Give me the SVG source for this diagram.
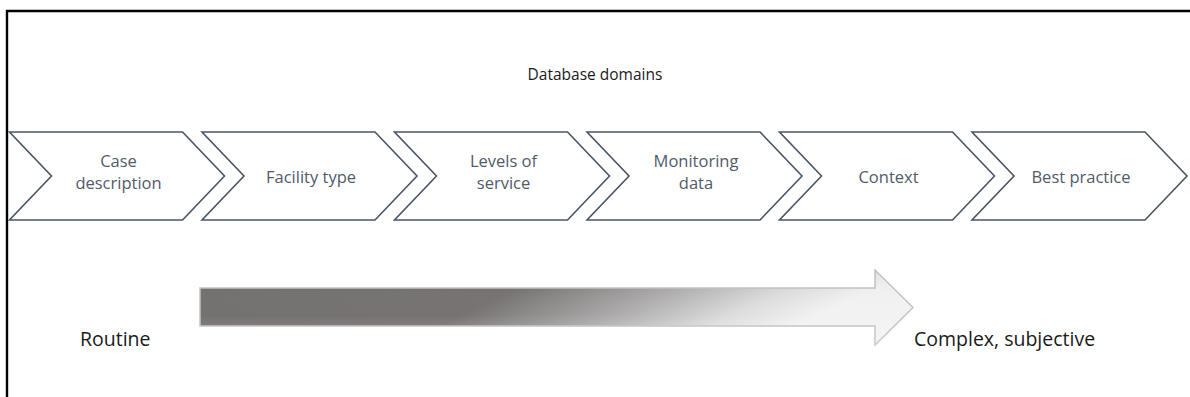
<svg xmlns="http://www.w3.org/2000/svg" width="1190" height="397" viewBox="0 0 1190 397">
<style>
.chev{fill:#ffffff;stroke:#4a5566;stroke-width:1.6;stroke-linejoin:miter}
.lbl{font-family:"Open Sans","Liberation Sans",sans-serif;font-size:16.5px;fill:#515b69;text-anchor:middle}
.big{font-family:"Open Sans","Liberation Sans",sans-serif;font-size:19.5px;fill:#1a1a1a}
.title{font-family:"Open Sans","Liberation Sans",sans-serif;font-size:15.5px;fill:#1a1a1a;text-anchor:middle}
</style>
<defs>
<linearGradient id="gH" gradientUnits="userSpaceOnUse" x1="200" y1="270" x2="331" y2="546">
<stop offset="0" stop-color="#737070"/>
<stop offset="0.5" stop-color="#777373"/>
<stop offset="0.7" stop-color="#a9a7a7"/>
<stop offset="0.88" stop-color="#dddddd"/>
<stop offset="1" stop-color="#f2f2f2"/>
</linearGradient>
<linearGradient id="gV" x1="0" y1="0" x2="0" y2="1">
<stop offset="0" stop-color="#000000" stop-opacity="0.04"/>
<stop offset="0.6" stop-color="#ffffff" stop-opacity="0"/>
<stop offset="1" stop-color="#ffffff" stop-opacity="0.2"/>
</linearGradient>
</defs>
<rect x="0" y="0" width="1190" height="397" fill="#ffffff"/>
<path d="M7,397 V11 H1190" fill="none" stroke="#000000" stroke-width="2.4"/>
<text x="595" y="80" class="title">Database domains</text>
<g id="n1"><path class="chev" d="M9.5,132 H182.5 L224.5,176 L182.5,220 H9.5 L51.5,176 Z"/><text class="lbl" x="118.5" y="167">Case</text><text class="lbl" x="118.5" y="189">description</text></g>
<g id="n2"><path class="chev" d="M202,132 H375 L417,176 L375,220 H202 L244,176 Z"/><text class="lbl" x="311" y="183">Facility type</text></g>
<g id="n3"><path class="chev" d="M394.5,132 H567.5 L609.5,176 L567.5,220 H394.5 L436.5,176 Z"/><text class="lbl" x="503.5" y="167">Levels of</text><text class="lbl" x="503.5" y="189">service</text></g>
<g id="n4"><path class="chev" d="M587,132 H760 L802,176 L760,220 H587 L629,176 Z"/><text class="lbl" x="696" y="167">Monitoring</text><text class="lbl" x="696" y="189">data</text></g>
<g id="n5"><path class="chev" d="M779.5,132 H952.5 L994.5,176 L952.5,220 H779.5 L821.5,176 Z"/><text class="lbl" x="888.5" y="183">Context</text></g>
<g id="n6"><path class="chev" d="M972,132 H1145 L1187,176 L1145,220 H972 L1014,176 Z"/><text class="lbl" x="1081" y="183">Best practice</text></g>
<g id="connectors">
<path d="M200,288 H875 V270 L913,307.5 L875,345 V326 H200 Z" fill="url(#gH)" stroke="#c4c4c4" stroke-width="1.5"/>
<path d="M200,288 H875 V270 L913,307.5 L875,345 V326 H200 Z" fill="url(#gV)" stroke="none"/>
</g>
<text class="big" x="80" y="346">Routine</text>
<text class="big" x="914" y="346">Complex, subjective</text>
</svg>
